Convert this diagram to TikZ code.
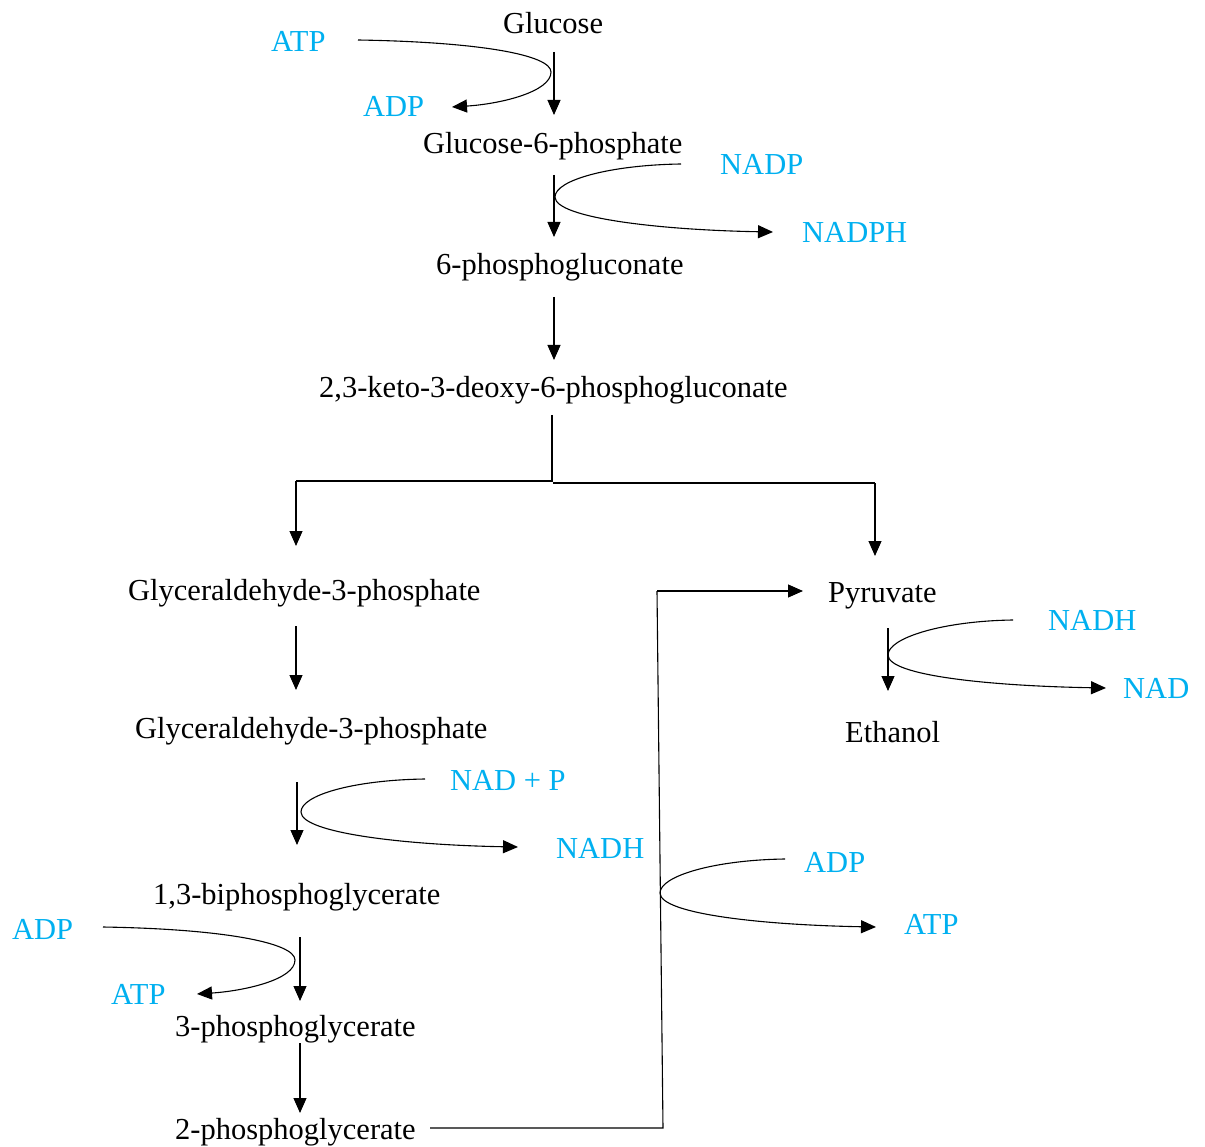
\documentclass[tikz,border=0pt]{standalone}
\usepackage{fontspec}
\setmainfont{Liberation Serif}
\usetikzlibrary{arrows.meta}
\definecolor{cofblue}{RGB}{0,176,240}
\begin{document}
\begin{tikzpicture}[x=1pt,y=-1pt,
  lbl/.style={anchor=base west,inner sep=0pt,font=\fontsize{30.5}{36}\selectfont},
  met/.style={lbl,text=black},
  cof/.style={lbl,text=cofblue},
  arr/.style={line width=1.1pt,-{Triangle[length=15pt,width=13pt]}},
  ln/.style={line width=1.1pt}]
\path[fill=white] (0,0) rectangle (1205,1147);
% metabolites
\node[met] (glc) at (503,34) {Glucose};
\node[met] (g6p) at (423,154) {Glucose-6-phosphate};
\node[met] (pg) at (436,275) {6-phosphogluconate};
\node[met] (kdpg) at (319,398) {2,3-keto-3-deoxy-6-phosphogluconate};
\node[met] (gap1) at (128,600) {Glyceraldehyde-3-phosphate};
\node[met] (gap2) at (135,738) {Glyceraldehyde-3-phosphate};
\node[met] (bpg) at (153,904) {1,3-biphosphoglycerate};
\node[met] (pga3) at (175,1036) {3-phosphoglycerate};
\node[met] (pga2) at (175,1139) {2-phosphoglycerate};
\node[met] (pyr) at (828,602) {Pyruvate};
\node[met] (eth) at (845,742) {Ethanol};
% cofactors
\node[cof] (atp1) at (271,52) {ATP};
\node[cof] (adp1) at (363,117) {ADP};
\node[cof] (nadp) at (720,175) {NADP};
\node[cof] (nadph) at (802,243) {NADPH};
\node[cof] (nadp2) at (450,790) {NAD + P};
\node[cof] (nadh1) at (556,858) {NADH};
\node[cof] (adp2) at (12,939) {ADP};
\node[cof] (atp2) at (111,1004) {ATP};
\node[cof] (adp3) at (804,872) {ADP};
\node[cof] (atp3) at (904,934) {ATP};
\node[cof] (nadh2) at (1048,630) {NADH};
\node[cof] (nad) at (1123,698) {NAD};
% connector end points
\coordinate (c1a) at (554,52);   \coordinate (c1b) at (554,115);
\coordinate (c2a) at (554,175);  \coordinate (c2b) at (554,237);
\coordinate (c3a) at (554,297);  \coordinate (c3b) at (554,360);
\coordinate (s0) at (552,415);   \coordinate (s1) at (552,481);
\coordinate (sl) at (296,481);   \coordinate (slb) at (296,546);
\coordinate (s2) at (553,483);   \coordinate (sr) at (875,483);
\coordinate (srb) at (875,556);
\coordinate (c4a) at (296,626);  \coordinate (c4b) at (296,690);
\coordinate (c5a) at (297,782);  \coordinate (c5b) at (297,845);
\coordinate (c6a) at (300,937);  \coordinate (c6b) at (300,1001);
\coordinate (c7a) at (300,1043); \coordinate (c7b) at (300,1113);
\coordinate (p0) at (430,1128);  \coordinate (p1) at (663,1128);
\coordinate (p2) at (657,591);   \coordinate (p3) at (803,591);
\coordinate (c8a) at (888,628);  \coordinate (c8b) at (888,691);
% main path arrows
\draw[arr] (c1a) -- (c1b);
\draw[arr] (c2a) -- (c2b);
\draw[arr] (c3a) -- (c3b);
\draw[ln] (s0) -- (s1) -- (sl);
\draw[arr] (sl) -- (slb);
\draw[ln] (s2) -- (sr);
\draw[arr] (sr) -- (srb);
\draw[arr] (c4a) -- (c4b);
\draw[arr] (c5a) -- (c5b);
\draw[arr] (c6a) -- (c6b);
\draw[arr] (c7a) -- (c7b);
\draw[ln] (p0) -- (p1) -- (p2);
\draw[arr] (p2) -- (p3);
\draw[arr] (c8a) -- (c8b);
% cofactor curves
\draw[arr] (358,40) .. controls (480,42) and (551,55) .. (551,72)
                    .. controls (551,92) and (500,104) .. (452,107);
\draw[arr] (681,164) .. controls (610,165) and (555,180) .. (555,197)
                     .. controls (555,218) and (660,230) .. (773,232);
\draw[arr] (425,779) .. controls (354,780) and (301,795) .. (301,812)
                     .. controls (301,833) and (405,845) .. (518,847);
\draw[arr] (103,927) .. controls (225,929) and (295,943) .. (295,960)
                     .. controls (295,980) and (243,991) .. (197,994);
\draw[arr] (785,859) .. controls (714,860) and (660,876) .. (660,893)
                     .. controls (660,914) and (763,925) .. (876,927);
\draw[arr] (1013,620) .. controls (942,621) and (888,638) .. (888,655)
                      .. controls (888,676) and (993,686) .. (1106,688);
\end{tikzpicture}
\end{document}
